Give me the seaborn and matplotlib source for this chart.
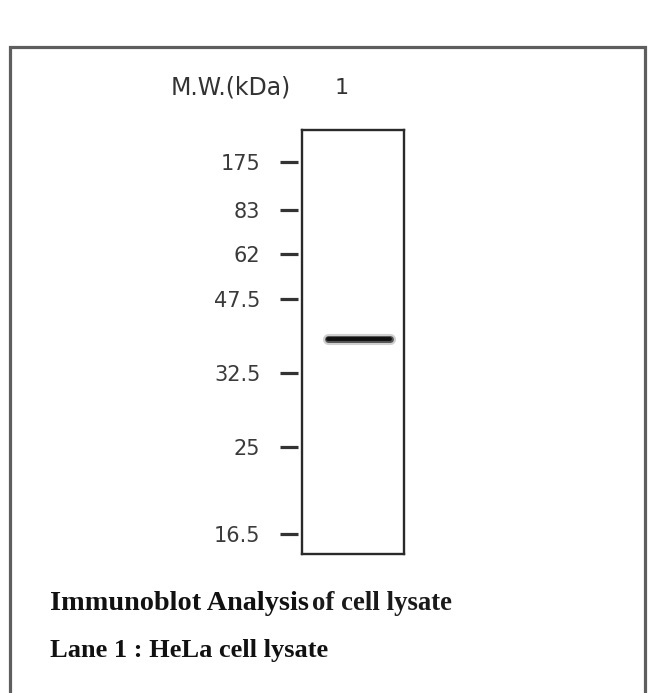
import matplotlib
matplotlib.use("Agg")
import matplotlib.pyplot as plt
import matplotlib.transforms as mtransforms
from matplotlib.patches import Rectangle
import seaborn as sns
import pandas as pd

# ---- data ----
marker_labels = ["175", "83", "62", "47.5", "32.5", "25", "16.5"]
marker_migration = [32, 80, 124, 169, 243, 317, 404]   # migration distance from well (px of gel)
gel_length = 424
band_migration = [209, 209]
band_span = [0.25, 0.86]
lane_labels = ["1"]
header_label = "M.W.(kDa)"
caption_bold = "Immunoblot Analysis"
caption_rest = "of cell lysate"
caption_line2 = "Lane 1 : HeLa cell lysate"

sns.set_theme(style="white")
plt.rcParams["font.family"] = ["DejaVu Sans"]

W, H = 651, 693
fig = plt.figure(figsize=(W / 100, H / 100), dpi=100)
fig.patch.set_facecolor("white")

def fx(px):
    return px / W

def fy(py):
    return 1 - py / H

# outer frame (open at bottom)
fig.add_artist(Rectangle((fx(10), -0.2), fx(645) - fx(10), fy(47) + 0.2,
                         transform=fig.transFigure, fill=False,
                         edgecolor="#5e5e5e", linewidth=2.3))

# lane axes
lx0, lx1, ly0, ly1 = 302, 404, 130, 554
ax = fig.add_axes([fx(lx0), fy(ly1), fx(lx1) - fx(lx0), fy(ly0) - fy(ly1)])
ax.set_facecolor("white")
ax.set_xlim(0, 1)
ax.set_ylim(gel_length, 0)
for s in ax.spines.values():
    s.set_visible(True)
    s.set_color("#2a2a2a")
    s.set_linewidth(1.7)

ax.set_xticks([])
ax.set_yticks(marker_migration)
ax.set_yticklabels(marker_labels, fontsize=15, color="#3a3a3a")
ax.tick_params(axis="y", length=0, pad=30)

# marker dashes
trans = mtransforms.blended_transform_factory(ax.transAxes, ax.transData)
ax.hlines(marker_migration, -0.215, -0.04, transform=trans, clip_on=False,
          color="#333333", linewidth=2.3)

# band
df_band = pd.DataFrame({"x": band_span, "y": band_migration})
sns.lineplot(data=df_band, x="x", y="y", ax=ax, color="#d0d0d0", linewidth=8,
             solid_capstyle="round")
sns.lineplot(data=df_band, x="x", y="y", ax=ax, color="#555555", linewidth=5,
             solid_capstyle="round")
sns.lineplot(data=df_band, x="x", y="y", ax=ax, color="#111111", linewidth=2.8,
             solid_capstyle="round")
ax.set_xlabel("")
ax.set_ylabel("")

# header
fig.text(fx(291), fy(88), header_label, ha="right", va="center",
         fontsize=17, color="#333333")
fig.text(fx(342), fy(88), lane_labels[0], ha="center", va="center",
         fontsize=16, color="#333333")

# captions
serif = ["Liberation Serif", "DejaVu Serif"]
fig.text(fx(50), fy(603), caption_bold, ha="left", va="center",
         fontsize=20.3, fontweight="bold", family=serif, color="#111111")
fig.text(fx(312), fy(603), caption_rest, ha="left", va="center",
         fontsize=19.3, fontweight="bold", family=serif, color="#1a1a1a")
fig.text(fx(50), fy(651), caption_line2, ha="left", va="center",
         fontsize=19, fontweight="bold", family=serif, color="#111111")

fig.savefig("out.png", dpi=100, facecolor="white")
